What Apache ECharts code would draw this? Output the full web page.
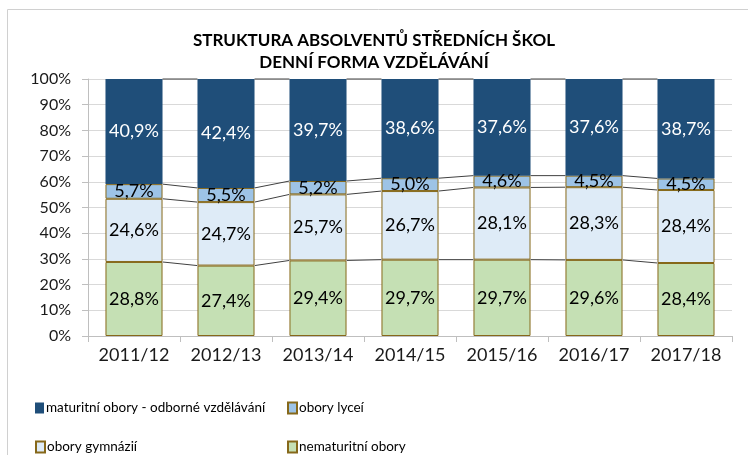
<!DOCTYPE html>
<html>
<head>
<meta charset="utf-8">
<script src="https://cdn.jsdelivr.net/npm/echarts@6/dist/echarts.min.js"></script>
<style>
  html, body { margin: 0; padding: 0; background: #fff; }
  #chart { width: 748px; height: 455px; }
</style>
</head>
<body>
<div id="chart"></div>
<script>
var years = ['2011/12', '2012/13', '2013/14', '2014/15', '2015/16', '2016/17', '2017/18'];
var nematuritni = [28.8, 27.4, 29.4, 29.7, 29.7, 29.6, 28.4];
var gymnazia = [24.6, 24.7, 25.7, 26.7, 28.1, 28.3, 28.4];
var lycea = [5.7, 5.5, 5.2, 5.0, 4.6, 4.5, 4.5];
var odborne = [40.9, 42.4, 39.7, 38.6, 37.6, 37.6, 38.7];
var yTicks = [0, 10, 20, 30, 40, 50, 60, 70, 80, 90, 100];

var FONT = 'Lato';
var BAR_RATIO = 0.62;
var edge = '#86681a';

// cumulative tops of each layer, used for the series lines
var layers = [nematuritni, gymnazia, lycea, odborne];
var tops = [];
var run = years.map(function () { return 0; });
layers.forEach(function (arr) {
	run = run.map(function (v, i) { return v + arr[i]; });
	tops.push(run.slice());
});

function fmt(v) {
	return v.toFixed(1).replace('.', ',') + '%';
}

function barSeries(name, data, color, border, labelColor) {
	return {
		name: name,
		type: 'bar',
		stack: 'all',
		barWidth: (BAR_RATIO * 100) + '%',
		data: data,
		z: 3,
		itemStyle: { color: color, borderColor: border || color, borderWidth: border ? 1 : 0 },
		label: {
			show: true,
			position: 'inside',
			color: labelColor,
			fontFamily: FONT,
			fontSize: 18,
			formatter: function (p) { return fmt(p.value); }
		}
	};
}

var lineData = [];
tops.forEach(function (t) {
	for (var i = 0; i < years.length - 1; i++) {
		lineData.push([i, t[i], t[i + 1]]);
	}
});

var seriesLines = {
	type: 'custom',
	silent: true,
	z: 4,
	data: lineData,
	renderItem: function (params, api) {
		var i = api.value(0);
		var half = api.size([1, 0])[0] * BAR_RATIO / 2;
		var a = api.coord([i, api.value(1)]);
		var b = api.coord([i + 1, api.value(2)]);
		return {
			type: 'line',
			shape: { x1: a[0] + half, y1: a[1], x2: b[0] - half, y2: b[1] },
			style: { stroke: '#404040', lineWidth: 1 }
		};
	}
};

function legendItem(name, left, top) {
	return {
		left: left,
		top: top,
		padding: 0,
		itemWidth: 9,
		itemHeight: 11,
		icon: 'rect',
		textStyle: { fontFamily: FONT, fontSize: 13.5, color: '#000', padding: [0, 0, 0, -3] },
		data: [name]
	};
}

var myChart = echarts.init(document.getElementById('chart'));
var option = {
	animation: false,
	title: {
		text: 'STRUKTURA ABSOLVENTŮ STŘEDNÍCH ŠKOL\nDENNÍ FORMA VZDĚLÁVÁNÍ',
		left: 'center',
		top: 25,
		textStyle: { fontFamily: FONT, fontWeight: 'bold', fontSize: 17, color: '#000', lineHeight: 22 }
	},
	graphic: [{
		type: 'rect',
		shape: { x: 7.5, y: 9.5, width: 760, height: 460 },
		style: { fill: 'none', stroke: '#d0d0d0', lineWidth: 1 },
		silent: true
	}],
	legend: [
		legendItem('maturitní obory - odborné vzdělávání', 35, 401),
		legendItem('obory gymnázií', 35, 440),
		legendItem('obory lyceí', 287, 401),
		legendItem('nematuritní obory', 287, 440)
	],
	grid: { left: 88, right: 16, top: 79, bottom: 119 },
	xAxis: {
		type: 'category',
		data: years,
		boundaryGap: true,
		axisLine: { lineStyle: { color: '#bfbfbf' } },
		axisTick: { show: true, length: 6, lineStyle: { color: '#bfbfbf' } },
		axisLabel: { interval: 0, color: '#1a1a1a', fontFamily: FONT, fontSize: 18, margin: 10 }
	},
	yAxis: {
		type: 'value',
		min: yTicks[0],
		max: yTicks[yTicks.length - 1],
		interval: yTicks[1] - yTicks[0],
		axisLine: { show: true, lineStyle: { color: '#bfbfbf' } },
		axisTick: { show: true, length: 6, lineStyle: { color: '#bfbfbf' } },
		splitLine: { lineStyle: { color: '#d9d9d9' } },
		axisLabel: { color: '#1a1a1a', fontFamily: FONT, fontSize: 16, margin: 17, formatter: '{value}%' }
	},
	series: [
		barSeries('nematuritní obory', nematuritni, '#c5e0b4', edge, '#000'),
		barSeries('obory gymnázií', gymnazia, '#deebf7', edge, '#000'),
		barSeries('obory lyceí', lycea, '#9dc3e6', edge, '#000'),
		barSeries('maturitní obory - odborné vzdělávání', odborne, '#1f4e79', null, '#fff'),
		seriesLines
	]
};
myChart.setOption(option);
</script>
</body>
</html>
